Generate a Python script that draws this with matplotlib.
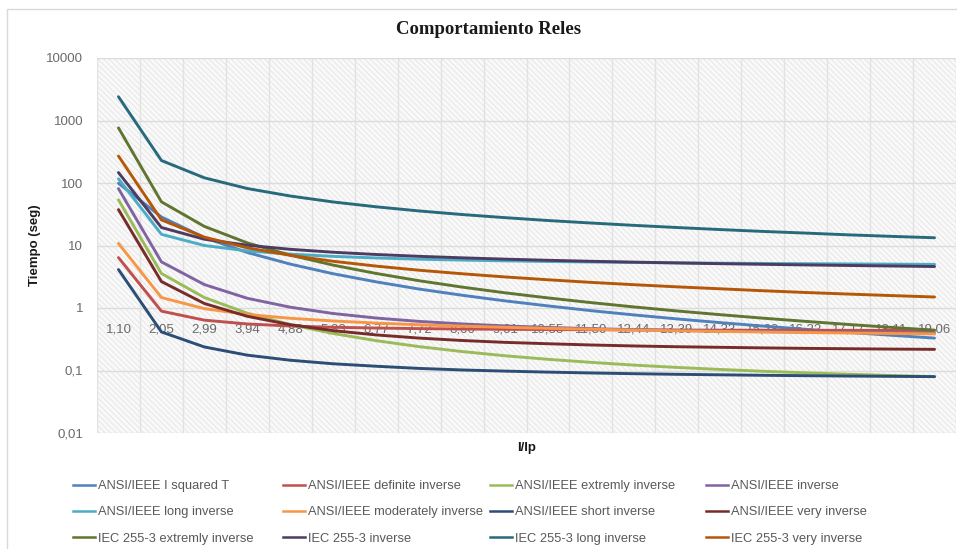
import matplotlib
matplotlib.use("Agg")
import matplotlib.pyplot as plt
from matplotlib import font_manager
from matplotlib.lines import Line2D
from matplotlib.patches import Rectangle
import numpy as np

# I/Ip categories
ratios = ['1,10', '2,05', '2,99', '3,94', '4,88', '5,83', '6,77', '7,72', '8,66', '9,61',
          '10,55', '11,50', '12,44', '13,39', '14,33', '15,28', '16,22', '17,17', '18,11', '19,06']

# Trip times (s) for each curve
ansi_i2t = [99.2, 28.6, 13.4, 7.73, 5.04, 3.53, 2.62, 2.01, 1.60, 1.30,
            1.08, 0.907, 0.775, 0.669, 0.584, 0.514, 0.456, 0.407, 0.366, 0.330]
ansi_definite = [6.40, 0.891, 0.639, 0.555, 0.515, 0.492, 0.478, 0.468, 0.461, 0.456,
                 0.452, 0.449, 0.446, 0.444, 0.442, 0.441, 0.440, 0.439, 0.438, 0.437]
ansi_extreme = [53.8, 3.57, 1.47, 0.825, 0.543, 0.391, 0.300, 0.241, 0.201, 0.172,
                0.151, 0.135, 0.122, 0.112, 0.104, 0.0972, 0.0917, 0.0871, 0.0832, 0.0798]
ansi_inverse = [81.3, 5.47, 2.37, 1.43, 1.03, 0.816, 0.691, 0.610, 0.556, 0.517,
                0.489, 0.467, 0.451, 0.438, 0.427, 0.419, 0.412, 0.406, 0.401, 0.397]
ansi_long = [116.7, 15.1, 10.0, 8.19, 7.27, 6.70, 6.32, 6.04, 5.84, 5.68,
             5.55, 5.44, 5.35, 5.28, 5.21, 5.16, 5.11, 5.07, 5.03, 4.99]
ansi_moderate = [10.8, 1.47, 0.976, 0.787, 0.685, 0.620, 0.574, 0.539, 0.513, 0.491,
                 0.473, 0.457, 0.444, 0.432, 0.422, 0.413, 0.405, 0.398, 0.391, 0.385]
ansi_short = [4.12, 0.414, 0.238, 0.176, 0.146, 0.128, 0.117, 0.108, 0.102, 0.0978,
              0.0942, 0.0913, 0.0889, 0.0869, 0.0853, 0.0838, 0.0826, 0.0815, 0.0806, 0.0798]
ansi_very = [37.5, 2.65, 1.18, 0.736, 0.540, 0.434, 0.371, 0.330, 0.302, 0.282,
             0.268, 0.256, 0.247, 0.240, 0.235, 0.230, 0.226, 0.223, 0.220, 0.218]
iec_extreme = [762, 50.0, 20.2, 11.0, 7.01, 4.85, 3.57, 2.73, 2.16, 1.75,
               1.45, 1.22, 1.04, 0.897, 0.783, 0.688, 0.611, 0.545, 0.489, 0.442]
iec_inverse = [147, 19.4, 12.6, 10.1, 8.69, 7.80, 7.18, 6.71, 6.35, 6.05,
               5.80, 5.59, 5.42, 5.26, 5.12, 5.00, 4.89, 4.79, 4.70, 4.61]
iec_long = [2400, 229, 121, 81.6, 61.9, 49.7, 41.6, 35.7, 31.3, 27.9,
            25.1, 22.9, 21.0, 19.4, 18.0, 16.8, 15.8, 14.8, 14.0, 13.3]
iec_very = [270, 25.7, 13.6, 9.18, 6.96, 5.59, 4.68, 4.02, 3.53, 3.14,
            2.83, 2.57, 2.36, 2.18, 2.03, 1.89, 1.77, 1.67, 1.58, 1.50]

series = [
    ('ANSI/IEEE I squared T', ansi_i2t, '#4F81BD'),
    ('ANSI/IEEE definite inverse', ansi_definite, '#C0504D'),
    ('ANSI/IEEE extremly inverse', ansi_extreme, '#9BBB59'),
    ('ANSI/IEEE inverse', ansi_inverse, '#8064A2'),
    ('ANSI/IEEE long inverse', ansi_long, '#4BACC6'),
    ('ANSI/IEEE moderately inverse', ansi_moderate, '#F79646'),
    ('ANSI/IEEE short inverse', ansi_short, '#2C4D75'),
    ('ANSI/IEEE very inverse', ansi_very, '#772C2A'),
    ('IEC 255-3 extremly inverse', iec_extreme, '#5F7530'),
    ('IEC 255-3 inverse', iec_inverse, '#4D3B62'),
    ('IEC 255-3 long inverse', iec_long, '#276A7C'),
    ('IEC 255-3 very inverse', iec_very, '#B65708'),
]

available = {f.name for f in font_manager.fontManager.ttflist}
narrow = 'Liberation Sans Narrow' if 'Liberation Sans Narrow' in available else 'Liberation Sans'
legend_size = 10.5 if narrow == 'Liberation Sans Narrow' else 9.3

plt.rcParams['font.family'] = ['Liberation Sans', 'DejaVu Sans']
plt.rcParams['hatch.linewidth'] = 0.6
plt.rcParams['hatch.color'] = '#e4e4e4'

W, H = 957, 549
fig = plt.figure(figsize=(W / 100, H / 100), dpi=100)

# chart frame
fig.patches.append(Rectangle((7 / W, -0.05), 1.1, 1.05 - 9 / H, transform=fig.transFigure,
                             facecolor='none', edgecolor='#d9d9d9', lw=1, zorder=0))

ax = fig.add_axes([97 / W, 1 - 433 / H, (956 - 97) / W, (433 - 58) / H])
ax.set_facecolor('#f9f9f9')
ax.add_patch(Rectangle((0, 0), 1, 1, transform=ax.transAxes, facecolor='none',
                       hatch='\\\\\\\\\\\\', lw=0, zorder=0))

x = np.arange(len(ratios))
for name, vals, color in series:
    ax.plot(x, vals, color=color, lw=2.1, label=name, solid_capstyle='round', zorder=3)

ax.set_yscale('log')
ax.set_ylim(0.01, 10000)
ax.set_xlim(-0.5, len(ratios) - 0.5)

yticks = [0.01, 0.1, 1, 10, 100, 1000, 10000]
ax.set_yticks(yticks, ['0,01', '0,1', '1', '10', '100', '1000', '10000'])
ax.yaxis.set_minor_locator(plt.NullLocator())
ax.tick_params(axis='y', length=0, pad=10, labelsize=9.5, labelcolor='#6a6a6a')

ax.set_xticks(x, ratios)
ax.set_xticks(np.arange(-0.5, len(ratios), 0.5), minor=True)
ax.tick_params(axis='x', which='both', length=0, pad=11, labelsize=9.5, labelcolor='#6a6a6a')
ax.spines['bottom'].set_position(('data', 1))

for s in ax.spines.values():
    s.set_visible(False)

ax.grid(True, axis='y', which='major', color='#dcdcdc', lw=1, zorder=1)
ax.grid(True, axis='x', which='minor', color='#e2e2e2', lw=1, zorder=1)
ax.set_axisbelow(True)

fig.text(489 / W, 1 - 30 / H, 'Comportamiento Reles', ha='center', va='center',
         family='Liberation Serif', weight='bold', fontsize=13.5, color='#1a1a1a')
fig.text(35 / W, 1 - 245 / H, 'Tiempo (seg)', ha='center', va='center', rotation=90,
         weight='bold', fontsize=9.5, color='#1a1a1a')
fig.text(527 / W, 1 - 448 / H, 'I/Ip', ha='center', va='center',
         weight='bold', fontsize=9.5, color='#1a1a1a')

# legend: 4 columns x 3 rows
handles = [Line2D([], [], color=c, lw=1.8) for _, _, c in series]
labels = [n for n, _, _ in series]
col_x = [73, 283, 490, 706]
for c in range(4):
    leg = fig.legend(handles[c::4], labels[c::4], loc='upper left',
                     bbox_to_anchor=(col_x[c] / W, 1 - 480 / H), frameon=False,
                     borderaxespad=0, borderpad=0, handlelength=1.7, handletextpad=0.2,
                     labelspacing=1.1, prop={'family': narrow, 'size': legend_size})
    for t in leg.get_texts():
        t.set_color('#595959')

fig.savefig('out.png', dpi=100)
